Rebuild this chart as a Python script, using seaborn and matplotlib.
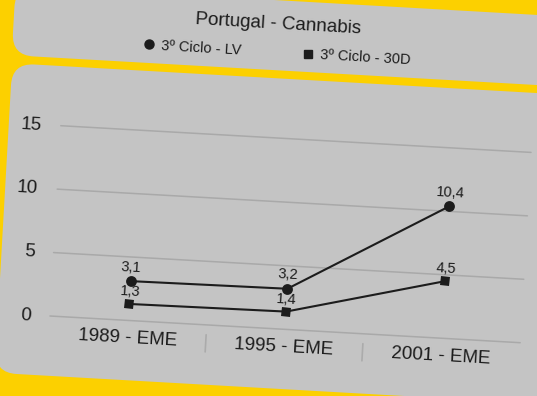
import numpy as np
import pandas as pd
import matplotlib
matplotlib.use("Agg")
import matplotlib.pyplot as plt
import seaborn as sns
from matplotlib.transforms import (Affine2D, ScaledTranslation,
                                   blended_transform_factory, IdentityTransform)
from matplotlib.patches import FancyBboxPatch
from matplotlib.lines import Line2D
from matplotlib.markers import MarkerStyle

# ---------------- data ----------------
title = "Portugal - Cannabis"
categories = ["1989 - EME", "1995 - EME", "2001 - EME"]
series_names = ["3º Ciclo - LV", "3º Ciclo - 30D"]
lv_values = [3.1, 3.2, 10.4]
d30_values = [1.3, 1.4, 4.5]
lv_labels = ["3,1", "3,2", "10,4"]
d30_labels = ["1,3", "1,4", "4,5"]
y_ticks = [0, 5, 10, 15]
y_tick_labels = ["0", "5", "10", "15"]

# ---------------- style ----------------
W, H, DPI = 537, 396, 100
ANGLE = -3.25
YELLOW = "#FCD000"
GREY = "#C4C4C4"
INK = "#1C1C1C"
GRID = "#A9A9A9"

sns.set_style("white")
plt.rcParams["font.family"] = ["Liberation Sans", "DejaVu Sans"]

fig = plt.figure(figsize=(W / DPI, H / DPI), dpi=DPI, facecolor=YELLOW)
R = Affine2D().rotate_deg_around(W / 2, H / 2, ANGLE)
PIX = IdentityTransform() + R


def off(dx, dy):
    return ScaledTranslation(dx / DPI, dy / DPI, fig.dpi_scale_trans)


# panels (unrotated pixel boxes, image y downward)
for (x0, y0, x1, y1) in [(4, 0, 640, 70), (5, 78, 640, 388)]:
    p = FancyBboxPatch((x0, H - y1), x1 - x0, y1 - y0,
                       boxstyle="round,pad=0,rounding_size=22",
                       fc=GREY, ec="none", transform=PIX, zorder=-5)
    fig.add_artist(p)

# title & legend
fig.text(268, H - 24, title, transform=PIX, rotation=ANGLE,
         rotation_mode="anchor", ha="center", va="center",
         fontsize=13.5, color=INK)
leg_x = [140.5, 300.0]
leg_markers = ["o", "s"]
leg_sizes = [6.5, 6.0]
for lx, nm, mk, ms in zip(leg_x, series_names, leg_markers, leg_sizes):
    fig.add_artist(Line2D([lx], [H - 51.5], ls="none",
                          marker=MarkerStyle(mk, transform=Affine2D().rotate_deg(ANGLE)),
                          ms=ms, color=INK, transform=PIX))
    fig.text(lx + 12, H - 52.5, nm, transform=PIX, rotation=ANGLE,
             rotation_mode="anchor", ha="left", va="center",
             fontsize=10.5, color=INK)

# ---------------- axes ----------------
ax = fig.add_axes([57 / W, (H - 328.2) / H, 471 / W, 190.6 / H])
ax.axis("off")

pos = list(range(len(categories)))
df = pd.DataFrame({
    "pos": pos * 2,
    "value": lv_values + d30_values,
    "series": [series_names[0]] * len(pos) + [series_names[1]] * len(pos),
})
sns.lineplot(data=df, x="pos", y="value", style="series",
             markers={series_names[0]: "o", series_names[1]: "s"},
             dashes=False, color=INK, linewidth=1.5, legend=False,
             sort=False, ax=ax)
ax.set_xlim(-0.5, len(categories) - 0.5)
ax.set_ylim(0, 15)

for line in ax.lines:
    mk = line.get_marker()
    line.set_marker(MarkerStyle(mk, transform=Affine2D().rotate_deg(ANGLE)))
    line.set_markersize(7.8 if mk == "o" else 6.6)
    line.set_markeredgewidth(0)
    line.set_color(INK)
    line.set_transform(ax.transData + R)
    line.set_clip_on(False)
    line.set_zorder(3)

# gridlines
for yv in y_ticks:
    ax.add_line(Line2D([-0.5, len(categories) - 0.5], [yv, yv], color=GRID,
                       lw=1.1, transform=ax.transData + R, clip_on=False,
                       zorder=1))

# y tick labels
ytr = ax.get_yaxis_transform() + off(-19, -1) + R
for yv, lab in zip(y_ticks, y_tick_labels):
    ax.text(0, yv, lab, transform=ytr, rotation=ANGLE, rotation_mode="anchor",
            ha="right", va="center", fontsize=13.5, color=INK, clip_on=False)

# category labels
xblend = blended_transform_factory(ax.transData, ax.transAxes)
for xp, lab in zip(pos, categories):
    ax.text(xp, 0, lab, transform=xblend + off(0, -18) + R, rotation=ANGLE,
            rotation_mode="anchor", ha="center", va="center",
            fontsize=13.5, color=INK, clip_on=False)

# category separators
for xb in np.arange(len(categories) - 1) + 0.5:
    ax.add_line(Line2D([xb, xb], [-0.052, -0.142], color="#ABABAB", lw=1.2,
                       transform=xblend + R, clip_on=False))

# data labels
for xp, v, lab in zip(pos, lv_values, lv_labels):
    ax.text(xp, v, lab, transform=ax.transData + off(0, 14) + R,
            rotation=ANGLE, rotation_mode="anchor", ha="center", va="center",
            fontsize=10.5, color=INK, clip_on=False)
for xp, v, lab in zip(pos, d30_values, d30_labels):
    ax.text(xp, v, lab, transform=ax.transData + off(0, 12.5) + R,
            rotation=ANGLE, rotation_mode="anchor", ha="center", va="center",
            fontsize=10.5, color=INK, clip_on=False)

fig.savefig("out.png", dpi=DPI, facecolor=YELLOW)
